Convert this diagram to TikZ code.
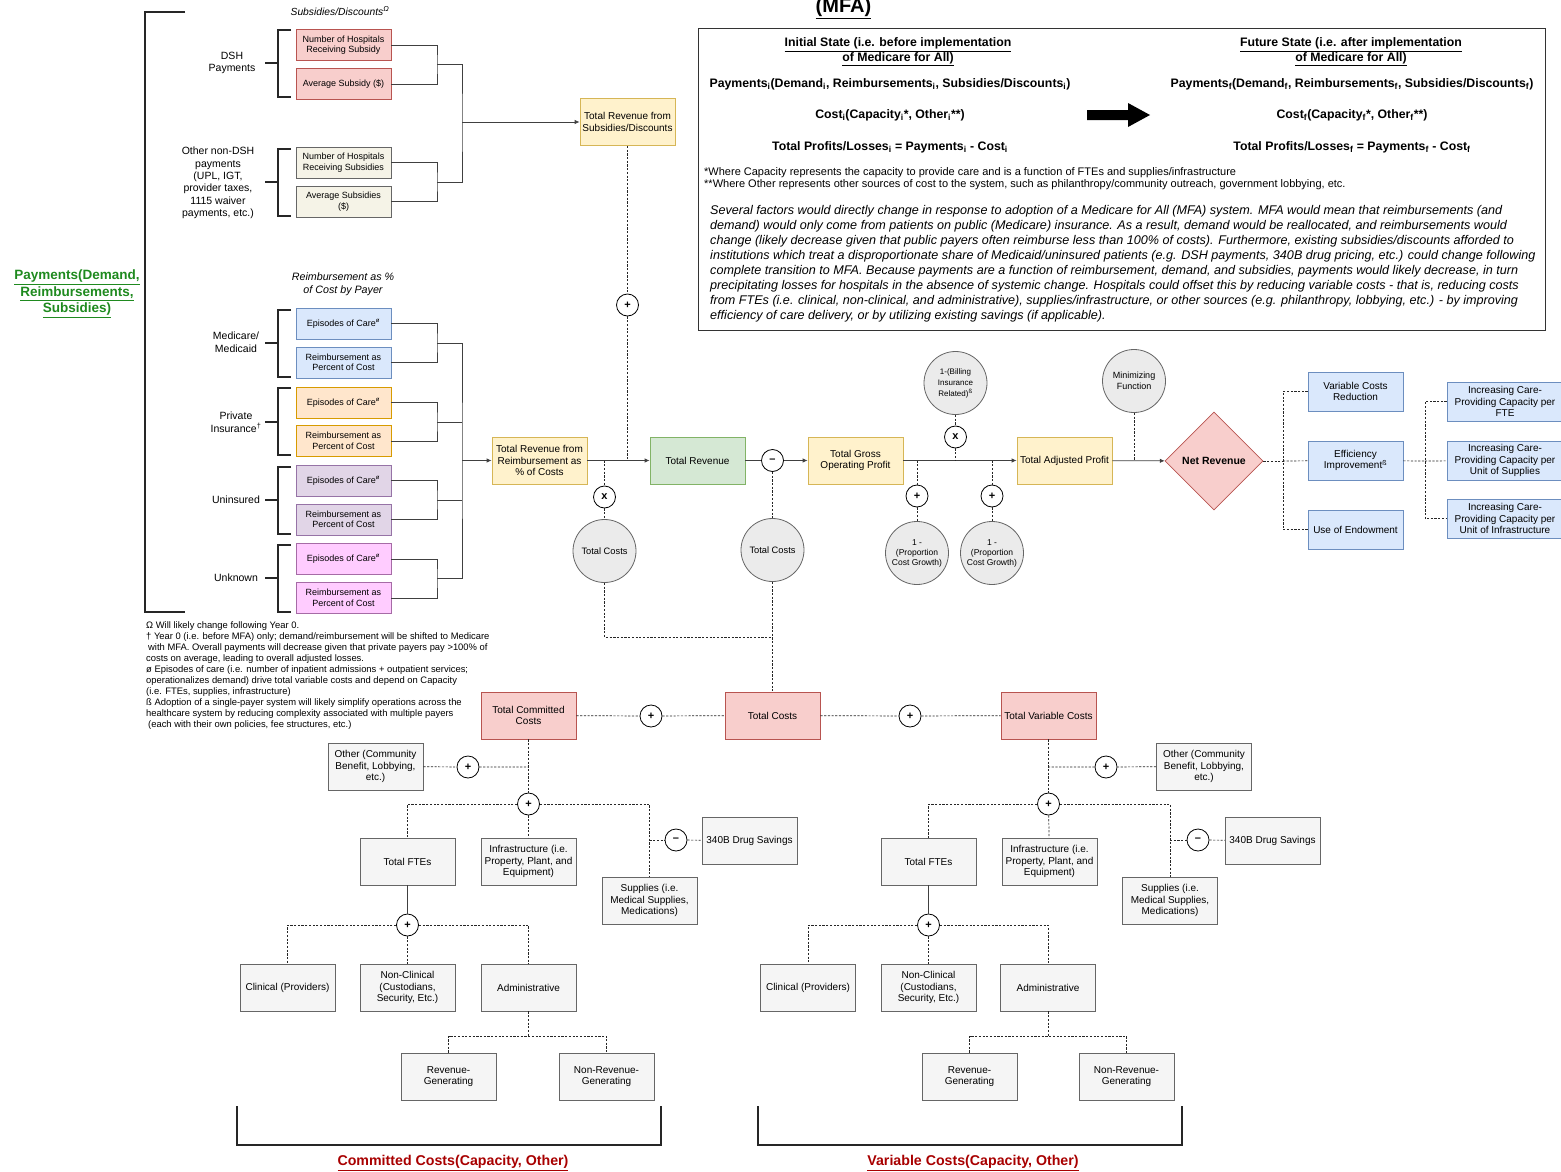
\documentclass[tikz,border=0pt]{standalone}
\usepackage{fontspec}
\setmainfont{Liberation Sans}
\usetikzlibrary{shapes.geometric,arrows.meta}
\newcommand{\fsz}[2]{\fontsize{#1}{#2}\selectfont}
\definecolor{redF}{HTML}{F8CECC}\definecolor{redD}{HTML}{B85450}
\definecolor{yelF}{HTML}{FFF2CC}\definecolor{yelD}{HTML}{D6B656}
\definecolor{grnF}{HTML}{D5E8D4}\definecolor{grnD}{HTML}{82B366}
\definecolor{bluF}{HTML}{DAE8FC}\definecolor{bluD}{HTML}{6C8EBF}
\definecolor{orgF}{HTML}{FFE6CC}\definecolor{orgD}{HTML}{D79B00}
\definecolor{purF}{HTML}{E1D5E7}\definecolor{purD}{HTML}{9673A6}
\definecolor{pnkF}{HTML}{FFCCFF}\definecolor{pnkD}{HTML}{A66BA6}
\definecolor{crmF}{HTML}{F5F3E7}\definecolor{crmD}{HTML}{666666}
\definecolor{gryF}{HTML}{F5F5F5}\definecolor{gryD}{HTML}{666666}
\definecolor{cirF}{HTML}{EBEBEB}
\definecolor{grnT}{HTML}{1F8A1F}
\definecolor{redT}{HTML}{A80000}

\begin{document}
\begin{tikzpicture}[x=1pt,y=-1pt,
    base/.style={rectangle,align=center,inner sep=1pt,line width=0.8pt,minimum width=95,minimum height=47,font=\fsz{10}{11.5}},
    gbox/.style={base,fill=gryF,draw=gryD},
    rbox/.style={base,fill=redF,draw=redD},
    ybox/.style={base,fill=yelF,draw=yelD},
    grbox/.style={base,fill=grnF,draw=grnD},
    bbox/.style={base,fill=bluF,draw=bluD,minimum height=39},
    sbox/.style={base,minimum height=31,font=\fsz{9}{10.5},fill=#1F,draw=#1D},
    op/.style={circle,draw=black,fill=white,line width=0.8pt,minimum size=22,inner sep=0pt,font=\bfseries\fsz{11}{11}},
    gc/.style={circle,draw=gryD,fill=cirF,line width=0.8pt,minimum size=63,inner sep=0pt,align=center,font=\fsz{8.5}{10}},
    lbl/.style={align=center,font=\fsz{10.5}{12.5}},
    ln/.style={draw=black!75,line width=0.8pt},
    arr/.style={ln,-{Latex[length=5pt,width=4.5pt]}},
    dsh/.style={draw=black!85,line width=0.7pt,dash pattern=on 2.2pt off 1.5pt},
    brk/.style={draw=black!85,line width=1.4pt},
    eq/.style={font=\bfseries\fsz{12.3}{14}},
    hd/.style={align=center,font=\bfseries\fsz{12.3}{14.5}}]

  \useasboundingbox (0,0) rectangle (1561,1172);

  % payments side
  \node[font=\bfseries\fsz{13.5}{16.5},text=grnT,align=center] (payL) at (77,294) {\underline{Payments(Demand,}\\\underline{Reimbursements,}\\\underline{Subsidies)}};
    \draw[brk] (185,12) -- (145,12) -- (145,612) -- (185,612);

  \node[font=\itshape\fsz{10.3}{12}] (subT) at (340,11) {Subsidies/Discounts\textsuperscript{Ω}};
  \node[lbl] (dshL) at (232,63) {DSH\\Payments};
    \draw[brk] (291,30) -- (278,30) -- (278,97) -- (291,97);
    \draw[brk] (265,63) -- (278,63);
  \node[sbox=red] (s1) at (343.5,45) {Number of Hospitals\\Receiving Subsidy};
  \node[sbox=red] (s2) at (343.5,84) {Average Subsidy (\$)};
  \node[lbl,font=\fsz{10.5}{12.4}] (othL) at (218,183) {Other non-DSH\\payments\\(UPL, IGT,\\provider taxes,\\1115 waiver\\payments, etc.)};
    \draw[brk] (291,149) -- (278,149) -- (278,216) -- (291,216);
    \draw[brk] (265,182) -- (278,182);
  \node[sbox=crm] (s3) at (343.5,162.5) {Number of Hospitals\\Receiving Subsidies};
  \node[sbox=crm] (s4) at (343.5,201.5) {Average Subsidies\\(\$)};

  \coordinate (jS1) at (437,64);
  \coordinate (jS2) at (437,182);
  \coordinate (jSo) at (462,122);
    \draw[ln] (s1) -| (jS1) |- (s2);
    \draw[ln] (s3) -| (jS2) |- (s4);
    \draw[ln] (jS1) -| (jSo) |- (jS2);
  \node[ybox] (tRS) at (627.5,122) {Total Revenue from\\Subsidies/Discounts};
    \draw[arr] (jSo) -- (tRS);

  \node[font=\itshape\fsz{10.7}{12.5},align=center] (rmbT) at (343,284) {Reimbursement as \%\\of Cost by Payer};
  \node[lbl] (mcL) at (236,342) {Medicare/\\Medicaid};
    \draw[brk] (291,310) -- (278,310) -- (278,377) -- (291,377);
    \draw[brk] (265,343) -- (278,343);
  \node[lbl] (piL) at (236,422) {Private\\Insurance\textsuperscript{†}};
    \draw[brk] (291,388) -- (278,388) -- (278,455) -- (291,455);
    \draw[brk] (265,422) -- (278,422);
  \node[lbl] (unL) at (236,500) {Uninsured};
    \draw[brk] (291,467) -- (278,467) -- (278,534) -- (291,534);
    \draw[brk] (265,500) -- (278,500);
  \node[lbl] (ukL) at (236,578) {Unknown};
    \draw[brk] (291,545) -- (278,545) -- (278,612) -- (291,612);
    \draw[brk] (265,578) -- (278,578);

  \node[sbox=blu] (m1) at (343.5,323.5) {Episodes of Care\textsuperscript{ø}};
  \node[sbox=blu] (m2) at (343.5,362.5) {Reimbursement as\\Percent of Cost};
  \node[sbox=org] (p1) at (343.5,402.5) {Episodes of Care\textsuperscript{ø}};
  \node[sbox=org] (p2) at (343.5,441) {Reimbursement as\\Percent of Cost};
  \node[sbox=pur] (u1) at (343.5,480.5) {Episodes of Care\textsuperscript{ø}};
  \node[sbox=pur] (u2) at (343.5,519.5) {Reimbursement as\\Percent of Cost};
  \node[sbox=pnk] (k1) at (343.5,559) {Episodes of Care\textsuperscript{ø}};
  \node[sbox=pnk] (k2) at (343.5,598) {Reimbursement as\\Percent of Cost};

  \coordinate (jM1) at (437,343);
  \coordinate (jM2) at (437,422);
  \coordinate (jM3) at (437,500);
  \coordinate (jM4) at (437,578);
  \coordinate (jMo) at (462,460.5);
    \draw[ln] (m1) -| (jM1) |- (m2);
    \draw[ln] (p1) -| (jM2) |- (p2);
    \draw[ln] (u1) -| (jM3) |- (u2);
    \draw[ln] (k1) -| (jM4) |- (k2);
    \draw[ln] (jM1) -| (jMo) |- (jM4);
    \draw[ln] (jM2) -- (jM2 -| jMo);
    \draw[ln] (jM3) -- (jM3 -| jMo);

  \node[font=\fsz{9.4}{11},anchor=north west,align=left,inner sep=0pt] (fnL) at (146,621) {Ω Will likely change following Year 0.\\
† Year 0 (i.e. before MFA) only; demand/reimbursement will be shifted to Medicare\\
\hspace*{2pt}with MFA. Overall payments will decrease given that private payers pay >100\% of\\
costs on average, leading to overall adjusted losses.\\
ø Episodes of care (i.e. number of inpatient admissions + outpatient services;\\
operationalizes demand) drive total variable costs and depend on Capacity\\
(i.e. FTEs, supplies, infrastructure)\\
ß Adoption of a single-payer system will likely simplify operations across the\\
healthcare system by reducing complexity associated with multiple payers\\
\hspace*{2pt}(each with their own policies, fee structures, etc.)};

  % main row
  \node[ybox] (tRR) at (539.5,460.5) {Total Revenue from\\Reimbursement as\\\% of Costs};
    \draw[arr] (jMo) -- (tRR);
  \node[grbox] (tR) at (697.5,460.5) {Total Revenue};
    \draw[arr] (tRR) -- (tR);
  \node[op] (pl1) at (627.5,305) {+};
    \draw[dsh] (tRS) -- (pl1);
    \draw[dsh] (pl1) -- (pl1 |- tR.west);
  \node[op] (x1) at (604.5,497) {x};
  \node[gc,font=\fsz{9.3}{10}] (tc1) at (604.5,551) {Total Costs};
    \draw[dsh] (x1 |- tR.west) -- (x1);
    \draw[dsh] (x1) -- (tc1);
  \node[op] (mn1) at (772.5,460.5) {–};
  \node[gc,font=\fsz{9.3}{10}] (tc2) at (772.5,550) {Total Costs};
  \node[ybox] (tGOP) at (855.5,460.5) {Total Gross\\Operating Profit};
    \draw[ln] (tR) -- (mn1);
    \draw[arr] (mn1) -- (tGOP);
    \draw[dsh] (mn1) -- (tc2);
  \coordinate (jTC) at (772.5,637);
    \draw[dsh] (tc1) |- (jTC);

  \node[ybox] (tAP) at (1064.5,460.5) {Total Adjusted Profit};
    \draw[arr] (tGOP) -- (tAP);
  \node[gc,font=\fsz{8}{11}] (bil) at (955.5,383) {1-(Billing\\Insurance\\Related)\textsuperscript{ß}};
  \node[op] (x2) at (955.5,437) {x};
    \draw[dsh] (bil) -- (x2);
    \draw[dsh] (x2) -- (x2 |- tAP.west);
  \node[op] (pl2) at (917,496) {+};
  \node[op] (pl3) at (992,496) {+};
  \node[gc] (pc1) at (917,553) {1 -\\(Proportion\\Cost Growth)};
  \node[gc] (pc2) at (992,553) {1 -\\(Proportion\\Cost Growth)};
    \draw[dsh] (pl2 |- tAP.west) -- (pl2);
    \draw[dsh] (pl2) -- (pc1);
    \draw[dsh] (pl3 |- tAP.west) -- (pl3);
    \draw[dsh] (pl3) -- (pc2);
  \node[gc,font=\fsz{9}{11}] (mf) at (1134,381) {Minimizing\\Function};
    \draw[dsh] (mf) -- (mf |- tAP.east);

  \node[diamond,fill=redF,draw=redD,line width=0.8pt,minimum width=98,minimum height=98,inner sep=0pt,font=\bfseries\fsz{10.5}{12}] (netR) at (1214,461) {Net Revenue};
    \draw[arr] (tAP) -- (netR);

  \node[bbox] (vCR) at (1355.5,391.5) {Variable Costs\\Reduction};
  \node[bbox] (eFI) at (1355.5,460.5) {Efficiency\\Improvement\textsuperscript{ß}};
  \node[bbox] (uoE) at (1355.5,529.5) {Use of Endowment};
  \coordinate (jR1) at (1283,461);
    \draw[dsh] (netR) -- (jR1);
    \draw[dsh] (vCR) -| (jR1) |- (uoE);
    \draw[dsh] (jR1) -- (eFI);
  \node[bbox,minimum width=116] (iC1) at (1505,401.5) {Increasing Care-\\Providing Capacity per\\FTE};
  \node[bbox,minimum width=116] (iC2) at (1505,460.5) {Increasing Care-\\Providing Capacity per\\Unit of Supplies};
  \node[bbox,minimum width=116] (iC3) at (1505,518.5) {Increasing Care-\\Providing Capacity per\\Unit of Infrastructure};
  \coordinate (jR2) at (1425,461);
    \draw[dsh] (eFI) -- (jR2);
    \draw[dsh] (iC1) -| (jR2) |- (iC3);
    \draw[dsh] (jR2) -- (iC2);

  % info box
    \draw[draw=black!80,line width=0.9pt] (698,28) rectangle (1545,330);
  \node[font=\bfseries\fsz{20}{20},anchor=base] (mfaT) at (843.5,13) {\underline{(MFA)}};
  \node[hd] (iniH) at (898,52) {\underline{Initial State (i.e. before implementation}\\\underline{of Medicare for All)}};
  \node[hd] (futH) at (1351,52) {\underline{Future State (i.e. after implementation}\\\underline{of Medicare for All)}};
  \node[eq] (payI) at (890,84) {Payments\textsubscript{i}(Demand\textsubscript{i}, Reimbursements\textsubscript{i}, Subsidies/Discounts\textsubscript{i})};
  \node[eq] (costI) at (890,115) {Cost\textsubscript{i}(Capacity\textsubscript{i}*, Other\textsubscript{i}**)};
  \node[eq] (profI) at (890,147) {Total Profits/Losses\textsubscript{i} = Payments\textsubscript{i} - Cost\textsubscript{i}};
  \node[eq] (payF) at (1352,84) {Payments\textsubscript{f}(Demand\textsubscript{f}, Reimbursements\textsubscript{f}, Subsidies/Discounts\textsubscript{f})};
  \node[eq] (costF) at (1352,115) {Cost\textsubscript{f}(Capacity\textsubscript{f}*, Other\textsubscript{f}**)};
  \node[eq] (profF) at (1352,147) {Total Profits/Losses\textsubscript{f} = Payments\textsubscript{f} - Cost\textsubscript{f}};
    \fill[black] (1087,110) -- (1128,110) -- (1128,103) -- (1150,115) -- (1128,127) -- (1128,120) -- (1087,120) -- cycle;
  \node[font=\fsz{11}{12.2},anchor=north west,align=left,inner sep=0pt] (fnB) at (704,167) {*Where Capacity represents the capacity to provide care and is a function of FTEs and supplies/infrastructure\\
**Where Other represents other sources of cost to the system, such as philanthropy/community outreach, government lobbying, etc.};
  \node[font=\itshape\fsz{12.6}{15},anchor=north west,align=left,inner sep=0pt] (parB) at (710,205) {Several factors would directly change in response to adoption of a Medicare for All (MFA) system. MFA would mean that reimbursements (and\\
demand) would only come from patients on public (Medicare) insurance. As a result, demand would be reallocated, and reimbursements would\\
change (likely decrease given that public payers often reimburse less than 100\% of costs). Furthermore, existing subsidies/discounts afforded to\\
institutions which treat a disproportionate share of Medicaid/uninsured patients (e.g. DSH payments, 340B drug pricing, etc.) could change following\\
complete transition to MFA. Because payments are a function of reimbursement, demand, and subsidies, payments would likely decrease, in turn\\
precipitating losses for hospitals in the absence of systemic change. Hospitals could offset this by reducing variable costs - that is, reducing costs\\
from FTEs (i.e. clinical, non-clinical, and administrative), supplies/infrastructure, or other sources (e.g. philanthropy, lobbying, etc.) - by improving\\
efficiency of care delivery, or by utilizing existing savings (if applicable).};

  % costs
  \node[rbox] (tCb) at (772.5,715.5) {Total Costs};
  \node[rbox] (tCC) at (528.5,715.5) {Total Committed\\Costs};
  \node[rbox] (tVC) at (1048.5,715.5) {Total Variable Costs};
  \node[op] (pl4) at (651,716) {+};
  \node[op] (pl5) at (910,716) {+};
    \draw[dsh] (tc2) -- (tCb);
    \draw[dsh] (tCC) -- (pl4) -- (tCb);
    \draw[dsh] (tCb) -- (pl5) -- (tVC);

  % committed
  \node[gbox] (oth1) at (375.5,766.5) {Other (Community\\Benefit, Lobbying,\\etc.)};
  \node[op] (pl7) at (468,767) {+};
  \node[op] (pl6) at (528.5,804) {+};
    \draw[dsh] (tCC) -- (pl6);
    \draw[dsh] (oth1) -- (pl7) -- (pl7 -| tCC);
  \node[gbox] (fte1) at (407.5,861.5) {Total FTEs};
  \node[gbox] (inf1) at (528.5,861.5) {Infrastructure (i.e.\\Property, Plant, and\\Equipment)};
  \node[gbox] (sup1) at (649.5,900.5) {Supplies (i.e.\\Medical Supplies,\\Medications)};
  \node[op] (mn2) at (676,840) {–};
  \node[gbox] (d340a) at (749.5,840.5) {340B Drug Savings};
    \draw[dsh] (pl6) -| (fte1);
    \draw[dsh] (pl6) -- (inf1);
    \draw[dsh] (pl6) -| (sup1);
    \draw[dsh] (mn2 -| sup1) -- (mn2);
    \draw[dsh] (mn2) -- (d340a);
  \node[op] (pl8) at (407.5,925) {+};
    \draw[ln] (fte1) -- (pl8);
  \node[gbox] (cl1) at (287.5,987.5) {Clinical (Providers)};
  \node[gbox] (nc1) at (407.5,987.5) {Non-Clinical\\(Custodians,\\Security, Etc.)};
  \node[gbox] (ad1) at (528.5,987.5) {Administrative};
    \draw[dsh] (pl8) -| (cl1);
    \draw[dsh] (pl8) -- (nc1);
    \draw[dsh] (pl8) -| (ad1);
  \node[gbox] (rg1) at (448.5,1076.5) {Revenue-\\Generating};
  \node[gbox] (nrg1) at (606.5,1076.5) {Non-Revenue-\\Generating};
  \coordinate (jA1) at (528.5,1036);
    \draw[dsh] (ad1) -- (jA1);
    \draw[dsh] (rg1) |- (jA1) -| (nrg1);
    \draw[brk] (237,1106) -- (237,1145) -- (661,1145) -- (661,1106);
  \node[font=\bfseries\fsz{14.2}{16},text=redT] (cmL) at (453,1163) {\underline{Committed Costs(Capacity, Other)}};

  % variable
  \node[gbox] (oth2) at (1204,766.5) {Other (Community\\Benefit, Lobbying,\\etc.)};
  \node[op] (pl10) at (1106,767) {+};
  \node[op] (pl9) at (1048.5,804) {+};
    \draw[dsh] (tVC) -- (pl9);
    \draw[dsh] (oth2) -- (pl10) -- (pl10 -| tVC);
  \node[gbox] (fte2) at (928.5,861.5) {Total FTEs};
  \node[gbox] (inf2) at (1049.5,861.5) {Infrastructure (i.e.\\Property, Plant, and\\Equipment)};
  \node[gbox] (sup2) at (1170,900.5) {Supplies (i.e.\\Medical Supplies,\\Medications)};
  \node[op] (mn3) at (1198,840) {–};
  \node[gbox] (d340b) at (1272.5,840.5) {340B Drug Savings};
    \draw[dsh] (pl9) -| (fte2);
    \draw[dsh] (pl9) -- (inf2);
    \draw[dsh] (pl9) -| (sup2);
    \draw[dsh] (mn3 -| sup2) -- (mn3);
    \draw[dsh] (mn3) -- (d340b);
  \node[op] (pl11) at (928.5,925) {+};
    \draw[ln] (fte2) -- (pl11);
  \node[gbox] (cl2) at (808,987.5) {Clinical (Providers)};
  \node[gbox] (nc2) at (928.5,987.5) {Non-Clinical\\(Custodians,\\Security, Etc.)};
  \node[gbox] (ad2) at (1048,987.5) {Administrative};
    \draw[dsh] (pl11) -| (cl2);
    \draw[dsh] (pl11) -- (nc2);
    \draw[dsh] (pl11) -| (ad2);
  \node[gbox] (rg2) at (969.5,1076.5) {Revenue-\\Generating};
  \node[gbox] (nrg2) at (1126.5,1076.5) {Non-Revenue-\\Generating};
  \coordinate (jA2) at (1048,1036);
    \draw[dsh] (ad2) -- (jA2);
    \draw[dsh] (rg2) |- (jA2) -| (nrg2);
    \draw[brk] (758,1106) -- (758,1145) -- (1182,1145) -- (1182,1106);
  \node[font=\bfseries\fsz{14.2}{16},text=redT] (vrL) at (973,1163) {\underline{Variable Costs(Capacity, Other)}};

\end{tikzpicture}
\end{document}
